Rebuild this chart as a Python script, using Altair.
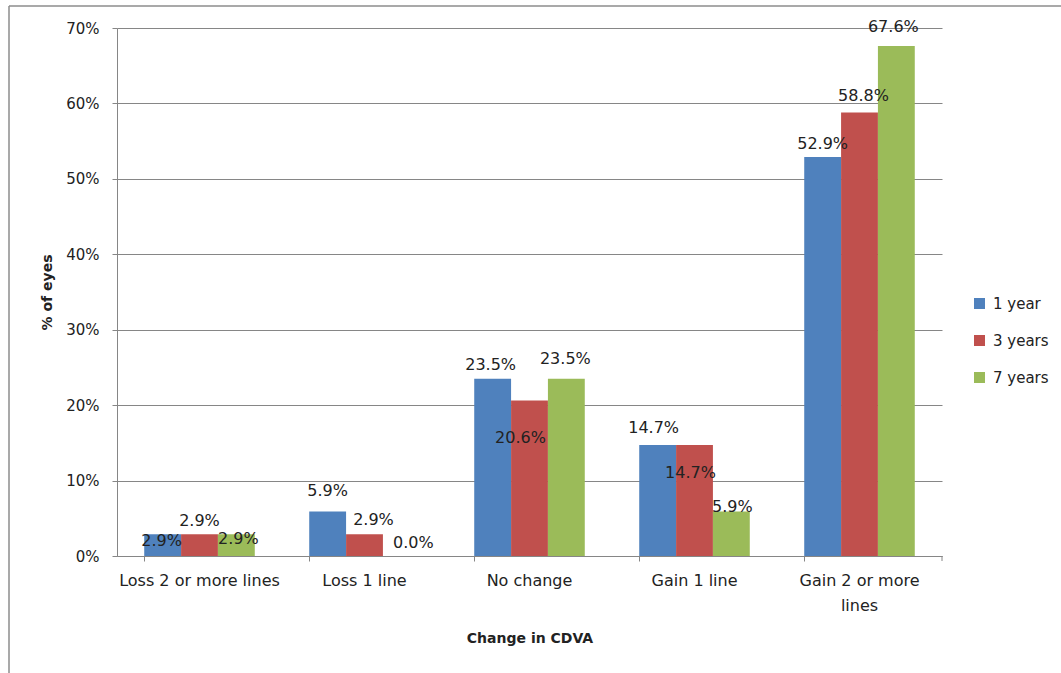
import altair as alt
import pandas as pd

# ---- data ----
categories = ["Loss 2 or more lines", "Loss 1 line", "No change", "Gain 1 line", "Gain 2 or more lines"]
series = ["1 year", "3 years", "7 years"]
one_year = [2.9, 5.9, 23.5, 14.7, 52.9]
three_years = [2.9, 2.9, 20.6, 14.7, 58.8]
seven_years = [2.9, 0.0, 23.5, 5.9, 67.6]
y_ticks = [0, 10, 20, 30, 40, 50, 60, 70]
colors = ["#4F81BD", "#C0504D", "#9BBB59"]

# data-label nudges (pixels from the top-centre of each bar), as placed in the reference
label_dx = {
    "1 year": [-1, 0, -2, -4, 0],
    "3 years": [0, 9, -9, -4, 4],
    "7 years": [2, 12, -1, 1, -3],
}
label_dy = {
    "1 year": [7, -20, -14, -17, -13],
    "3 years": [-13, -14, 37, 28, -16],
    "7 years": [5, -13, -20, -4, -19],
}

FONT = "DejaVu Sans"
TEXT = "#222222"
GRID = "#868686"

rows = []
idx = 0
for s, vals in zip(series, [one_year, three_years, seven_years]):
    for j, (c, v) in enumerate(zip(categories, vals)):
        rows.append({"idx": idx, "category": c, "series": s, "value": v,
                     "label": f"{v:.1f}%", "dx": label_dx[s][j], "dy": label_dy[s][j]})
        idx += 1
df = pd.DataFrame(rows)

W, H = 825, 528

X = alt.X(
    "category:N", sort=categories, title="Change in CDVA",
    scale=alt.Scale(paddingInner=0.33, paddingOuter=0.165),
    axis=alt.Axis(
        labelAngle=0, labelFont=FONT, labelFontSize=16, labelColor=TEXT,
        labelPadding=11, labelLineHeight=25, labelBaseline="top",
        labelExpr="datum.label == 'Gain 2 or more lines' ? ['Gain 2 or more', 'lines'] : datum.label",
        bandPosition=0, tickSize=5, tickColor=GRID, domainColor=GRID,
        titleFont=FONT, titleFontSize=14, titleFontWeight="bold", titleColor=TEXT,
        titleX=W / 2, titleY=82, titleBaseline="middle", titleAlign="center",
        grid=False,
    ),
)
XO = alt.XOffset("series:N", sort=series, scale=alt.Scale(paddingInner=0, paddingOuter=0))
Y = alt.Y(
    "value:Q", title="% of eyes",
    scale=alt.Scale(domain=[0, 70], nice=False, zero=True),
    axis=alt.Axis(
        values=y_ticks, labelExpr="datum.value + '%'",
        labelFont=FONT, labelFontSize=15, labelColor=TEXT, labelPadding=13,
        tickSize=5, tickColor=GRID, domainColor=GRID,
        grid=True, gridColor=GRID, gridWidth=1,
        titleFont=FONT, titleFontSize=14, titleFontWeight="bold", titleColor=TEXT,
        titleX=-70, titleY=H / 2, titleAngle=-90, titleAlign="center", titleBaseline="middle",
    ),
)

base = alt.Chart(df)

bars = base.mark_bar().encode(
    x=X, xOffset=XO, y=Y,
    color=alt.Color(
        "series:N", sort=series, scale=alt.Scale(domain=series, range=colors),
        legend=alt.Legend(
            title=None, orient="none", legendX=855, legendY=268,
            symbolType="square", symbolSize=121, symbolStrokeWidth=0,
            labelFont=FONT, labelFontSize=15, labelColor=TEXT,
            labelOffset=6, rowPadding=21, padding=0,
        ),
    ),
)

labels = []
for r in rows:
    labels.append(
        base.transform_filter(alt.datum.idx == r["idx"])
        .mark_text(dx=r["dx"], dy=r["dy"], baseline="middle", align="center",
                   font=FONT, fontSize=16, color=TEXT)
        .encode(x=X, xOffset=XO, y=Y, text="label:N")
    )

one = alt.Chart(pd.DataFrame({"k": [0]}))
frame_left = one.mark_rule(color="#8c8c8c", strokeWidth=1.5).encode(
    x=alt.value(-108), y=alt.value(-22), y2=alt.value(H + 120))
frame_top = one.mark_rule(color="#8c8c8c", strokeWidth=1.5).encode(
    x=alt.value(-108), x2=alt.value(W + 119), y=alt.value(-22))
end_tick = one.mark_rule(color=GRID, strokeWidth=1).encode(
    x=alt.value(W), y=alt.value(H), y2=alt.value(H + 5))

chart = alt.layer(bars, *labels, frame_left, frame_top, end_tick).properties(
    width=W, height=H,
    autosize=alt.AutoSizeParams(type="none"),
    padding={"left": 117, "top": 28, "right": 119, "bottom": 117},
    background="white",
).configure_view(stroke=None)

chart.save("out.html", embed_options={"renderer": "svg", "actions": False})
